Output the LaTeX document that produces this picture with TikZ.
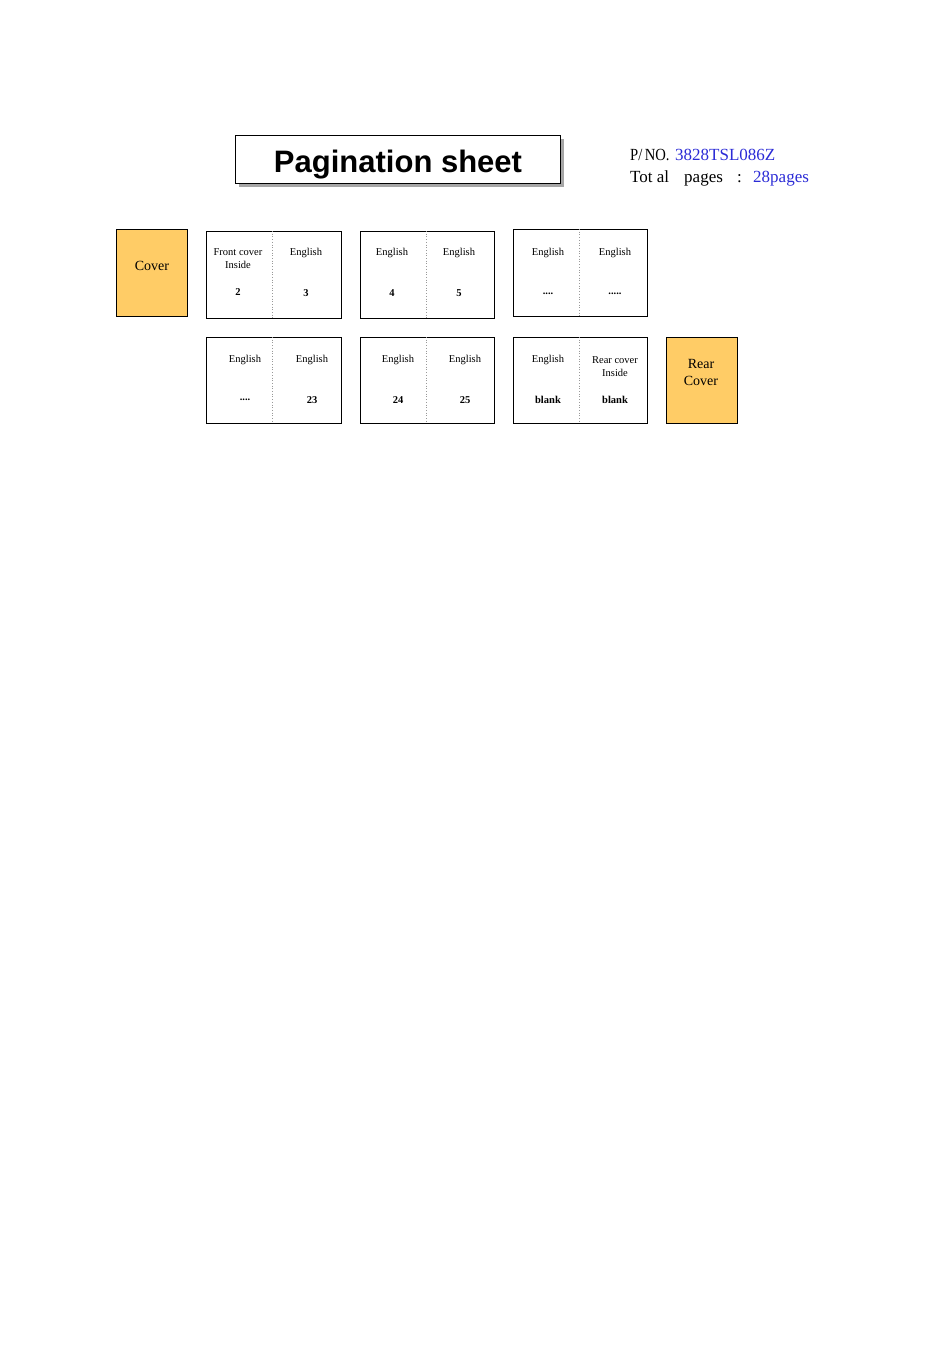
\documentclass[tikz,border=0pt]{standalone}
\usepackage{fontspec}
\usepackage{graphicx}
\setmainfont{Liberation Serif}
\newfontfamily\titlefont{Liberation Sans}
\definecolor{coverfill}{HTML}{FFCC66}
\definecolor{pnblue}{HTML}{2B2BD6}
\begin{document}
\begin{tikzpicture}[x=1pt,y=-1pt,
  sheet/.style={draw=black,line width=0.9pt,fill=white},
  coverbox/.style={draw=black,line width=0.9pt,fill=coverfill},
  fold/.style={draw=gray!80,line width=0.7pt,dotted},
  lbl/.style={font=\fontsize{10.5}{13}\selectfont,align=center,inner sep=0pt},
  num/.style={font=\fontsize{10.5}{13}\selectfont\bfseries,inner sep=0pt},
  covertxt/.style={font=\fontsize{14}{17}\selectfont,align=center,inner sep=0pt},
  info/.style={font=\fontsize{17}{20}\selectfont,anchor=base west,inner sep=0pt}]
\useasboundingbox (0,0) rectangle (950,1345);
% title
\fill[gray!70] (239,139) rectangle (564,187);
\draw[sheet] (235,135) rectangle (560,183);
\node[font=\titlefont\bfseries\fontsize{31}{36}\selectfont,inner sep=0pt,anchor=base] (title) at (398,172) {Pagination sheet};
% part number info
\node[info] (pn) at (630,160) {\scalebox{0.86}[1]{P/\,NO.}};
\node[info,text=pnblue] (pnval) at (675,160) {3828TSL086Z};
\node[info] (tp) at (630,182) {Tot al};
\node[info] (tp2) at (684,182) {pages};
\node[info] (tp3) at (737,182) {:};
\node[info,text=pnblue] (tpval) at (753,182) {28pages};
% front cover
\draw[coverbox] (116,229) rectangle (187,316);
\node[covertxt] (cover) at (152,266) {Cover};
% row 1
\draw[sheet] (206,231) rectangle (341,318);
\draw[fold] (272,231) -- (272,318);
\node[lbl] (s1a) at (238,259) {Front cover\\Inside};
\node[lbl] (s1b) at (306,253) {English};
\node[num] (n1a) at (238,292) {2};
\node[num] (n1b) at (306,293) {3};
\draw[sheet] (360,231) rectangle (494,318);
\draw[fold] (426,231) -- (426,318);
\node[lbl] (s2a) at (392,253) {English};
\node[lbl] (s2b) at (459,253) {English};
\node[num] (n2a) at (392,293) {4};
\node[num] (n2b) at (459,293) {5};
\draw[sheet] (513,229) rectangle (647,316);
\draw[fold] (579,229) -- (579,316);
\node[lbl] (s3a) at (548,253) {English};
\node[lbl] (s3b) at (615,253) {English};
\node[num] (n3a) at (548,294) {....};
\node[num] (n3b) at (615,294) {.....};
% row 2
\draw[sheet] (206,337) rectangle (341,423);
\draw[fold] (272,337) -- (272,423);
\node[lbl] (s4a) at (245,360) {English};
\node[lbl] (s4b) at (312,360) {English};
\node[num] (n4a) at (245,400) {....};
\node[num] (n4b) at (312,400) {23};
\draw[sheet] (360,337) rectangle (494,423);
\draw[fold] (426,337) -- (426,423);
\node[lbl] (s5a) at (398,360) {English};
\node[lbl] (s5b) at (465,360) {English};
\node[num] (n5a) at (398,400) {24};
\node[num] (n5b) at (465,400) {25};
\draw[sheet] (513,337) rectangle (647,423);
\draw[fold] (579,337) -- (579,423);
\node[lbl] (s6a) at (548,360) {English};
\node[lbl] (s6b) at (615,366.5) {Rear cover\\Inside};
\node[num] (n6a) at (548,400) {blank};
\node[num] (n6b) at (615,400) {blank};
% rear cover
\draw[coverbox] (666,337) rectangle (737,423);
\node[covertxt] (rear) at (701,372) {Rear\\Cover};
\end{tikzpicture}
\end{document}
